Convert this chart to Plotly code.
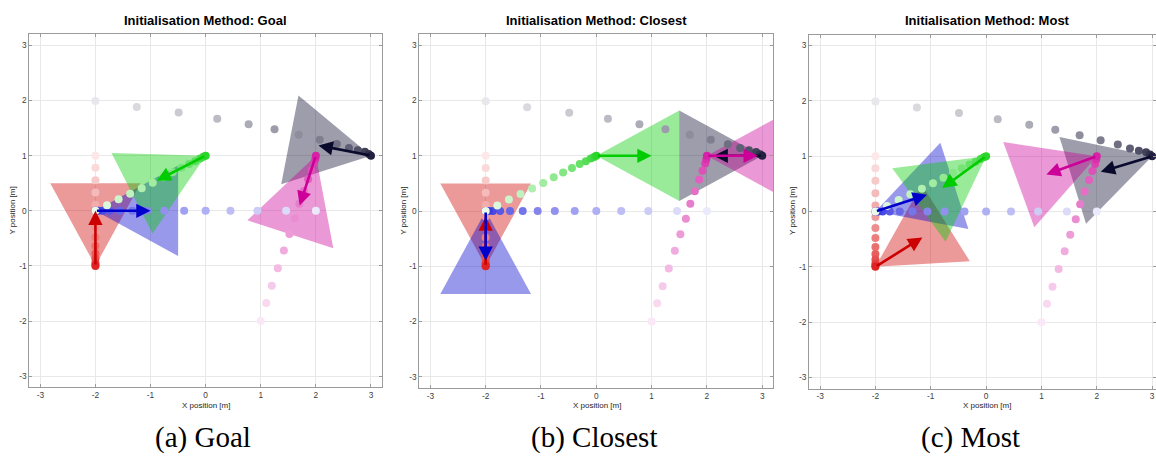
import numpy as np
import plotly.graph_objects as go

W, H = 1156, 457

# ---------------- data ----------------
agent_names = ["red", "blue", "green", "black", "magenta"]

# trajectories (identical in all three panels), oldest -> newest
red_x = [-2.0] * 14
red_y = [1.0, 0.78, 0.555, 0.33, 0.11, -0.1, -0.3, -0.48, -0.64, -0.77, -0.87, -0.94, -0.98, -1.0]
blue_x = [2.0, 1.46, 0.94, 0.45, 0.0, -0.39, -0.75, -1.06, -1.33, -1.56, -1.74, -1.87, -1.95, -2.0]
blue_y = [0.0] * 14
green_x = [-2.0, -1.79, -1.58, -1.37, -1.16, -0.96, -0.77, -0.6, -0.44, -0.3, -0.19, -0.1, -0.04, 0.0]
green_y = [0.0, 0.1, 0.21, 0.31, 0.41, 0.51, 0.61, 0.7, 0.78, 0.85, 0.9, 0.95, 0.98, 1.0]
black_x = [-2.0, -1.25, -0.49, 0.21, 0.78, 1.25, 1.69, 2.07, 2.38, 2.6, 2.76, 2.89, 2.96, 3.0]
black_y = [1.99, 1.88, 1.78, 1.67, 1.57, 1.48, 1.38, 1.29, 1.21, 1.14, 1.1, 1.07, 1.03, 1.0]
magenta_x = [1.0, 1.1, 1.2, 1.31, 1.42, 1.52, 1.62, 1.7, 1.78, 1.86, 1.92, 1.97, 1.99, 2.0]
magenta_y = [-2.0, -1.67, -1.36, -1.04, -0.72, -0.42, -0.14, 0.13, 0.36, 0.57, 0.73, 0.86, 0.94, 1.0]

# initial heading (deg) and arrow length for each agent, per panel
panel_titles = ["Initialisation Method: Goal", "Initialisation Method: Closest", "Initialisation Method: Most"]
panel_captions = ["(a) Goal", "(b) Closest", "(c) Most"]
goal_heading = [90, 0, 207, 169, 252]
goal_length = [1.0, 1.0, 1.0, 0.97, 0.95]
closest_heading = [90, 270, 0, 180, 0]
closest_length = [0.9, 0.9, 1.0, 0.88, 0.92]
most_heading = [32, 18, 216, 197, 200]
most_length = [1.0, 0.98, 0.98, 0.97, 0.97]

tick_values = [-3, -2, -1, 0, 1, 2, 3]
tick_labels = ["-3", "-2", "-1", "0", "1", "2", "3"]

# ---------------- style ----------------
cone_length = 1.5
cone_halfwidth = 0.82
base_colors = {
    "red": (204, 0, 0),
    "blue": (0, 0, 204),
    "green": (0, 204, 0),
    "black": (10, 10, 45),
    "magenta": (204, 0, 153),
}
dot_colors = {
    "red": (222, 30, 30),
    "blue": (40, 40, 222),
    "green": (40, 212, 40),
    "black": (30, 30, 60),
    "magenta": (214, 30, 165),
}
trajectories = {
    "red": (red_x, red_y),
    "blue": (blue_x, blue_y),
    "green": (green_x, green_y),
    "black": (black_x, black_y),
    "magenta": (magenta_x, magenta_y),
}
headings = [goal_heading, closest_heading, most_heading]
lengths = [goal_length, closest_length, most_length]

# subplot geometry (pixels)
x_px = [(29.3, 382.0), (419.3, 773.3), (809.0, 1156.0)]
y_px = [(34.3, 387.3), (34.3, 387.8), (34.5, 388.5)]
x_ranges = [[-3.2, 3.2], [-3.2, 3.2], [-3.2, 3.07]]
title_cx = [205.5, 596.5, 987.0]
caption_cx = [203, 594, 970]

grid_col = "rgb(232,232,232)"
axis_col = "rgb(155,155,155)"
tick_font_col = "rgb(60,60,60)"


def blend(c, a):
    return "rgb(%d,%d,%d)" % tuple(round(255 - a * (255 - v)) for v in c)


fig = go.Figure()
annotations = []

for p in range(3):
    xa = "x" if p == 0 else "x%d" % (p + 1)
    ya = "y" if p == 0 else "y%d" % (p + 1)
    # cones
    for i, name in enumerate(agent_names):
        tx, ty = trajectories[name]
        px0, py0 = tx[-1], ty[-1]
        th = np.deg2rad(headings[p][i])
        d = np.array([np.cos(th), np.sin(th)])
        n = np.array([-np.sin(th), np.cos(th)])
        c = np.array([px0, py0]) + cone_length * d
        v1 = c + cone_halfwidth * n
        v2 = c - cone_halfwidth * n
        r, g, b = base_colors[name]
        fig.add_trace(go.Scatter(
            x=[px0, v1[0], v2[0], px0], y=[py0, v1[1], v2[1], py0],
            mode="lines", fill="toself", fillcolor="rgba(%d,%d,%d,0.4)" % (r, g, b),
            line=dict(width=0), hoverinfo="skip", showlegend=False,
            xaxis=xa, yaxis=ya))
    # trajectory dots
    for name in agent_names:
        tx, ty = trajectories[name]
        npts = len(tx)
        cols = [blend(dot_colors[name], 0.1 + 0.88 * k / (npts - 1)) for k in range(npts)]
        fig.add_trace(go.Scatter(
            x=tx, y=ty, mode="markers",
            marker=dict(size=8, color=cols, line=dict(width=0)),
            hoverinfo="skip", showlegend=False, xaxis=xa, yaxis=ya))
    # arrows
    for i, name in enumerate(agent_names):
        tx, ty = trajectories[name]
        px0, py0 = tx[-1], ty[-1]
        th = np.deg2rad(headings[p][i])
        L = lengths[p][i]
        annotations.append(dict(
            x=px0 + L * np.cos(th), y=py0 + L * np.sin(th),
            ax=px0, ay=py0, xref=xa, yref=ya, axref=xa, ayref=ya,
            text="", showarrow=True, arrowhead=2, arrowsize=1.1,
            arrowwidth=2.6, arrowcolor="rgb(%d,%d,%d)" % base_colors[name]))

    # axes
    xd = [x_px[p][0] / W, x_px[p][1] / W]
    yd = [1 - y_px[p][1] / H, 1 - y_px[p][0] / H]
    common = dict(tickvals=tick_values, ticktext=tick_labels, showgrid=True,
                  gridcolor=grid_col, gridwidth=1, zeroline=False, showline=True,
                  linecolor=axis_col, linewidth=1, mirror="ticks", ticks="inside",
                  ticklen=3, tickcolor=axis_col,
                  tickfont=dict(family="Liberation Sans, Arial", size=8.3, color=tick_font_col),
                  fixedrange=True)
    fig.layout["xaxis" if p == 0 else "xaxis%d" % (p + 1)] = dict(
        domain=xd, range=x_ranges[p], anchor=ya, **common)
    fig.layout["yaxis" if p == 0 else "yaxis%d" % (p + 1)] = dict(
        domain=yd, range=[-3.2, 3.2], anchor=xa, **common)

    # title
    annotations.append(dict(
        x=title_cx[p] / W, y=1 - 20 / H, xref="paper", yref="paper",
        text="<b>%s</b>" % panel_titles[p], showarrow=False,
        font=dict(family="Liberation Sans, Arial", size=13, color="black"),
        xanchor="center", yanchor="middle"))
    # axis titles
    annotations.append(dict(
        x=title_cx[p] / W, y=1 - 405.5 / H, xref="paper", yref="paper",
        text="X position [m]", showarrow=False, borderpad=0,
        font=dict(family="Liberation Sans, Arial", size=8, color="rgb(30,30,30)"),
        xanchor="center", yanchor="middle"))
    annotations.append(dict(
        x=(x_px[p][0] - 16.5) / W, y=1 - (y_px[p][0] + y_px[p][1]) / 2 / H,
        xref="paper", yref="paper", text="Y position [m]", showarrow=False,
        textangle=-90, borderpad=0,
        font=dict(family="Liberation Sans, Arial", size=8, color="rgb(30,30,30)"),
        xanchor="center", yanchor="middle"))
    # caption
    annotations.append(dict(
        x=caption_cx[p] / W, y=1 - 437.5 / H, xref="paper", yref="paper",
        text=panel_captions[p], showarrow=False, borderpad=0,
        font=dict(family="Liberation Serif, Times New Roman, serif", size=29, color="black"),
        xanchor="center", yanchor="middle"))

fig.update_layout(
    width=W, height=H, margin=dict(l=0, r=0, t=0, b=0),
    paper_bgcolor="white", plot_bgcolor="white",
    annotations=annotations, showlegend=False)

fig.write_html("out.html", config={"displayModeBar": False})
